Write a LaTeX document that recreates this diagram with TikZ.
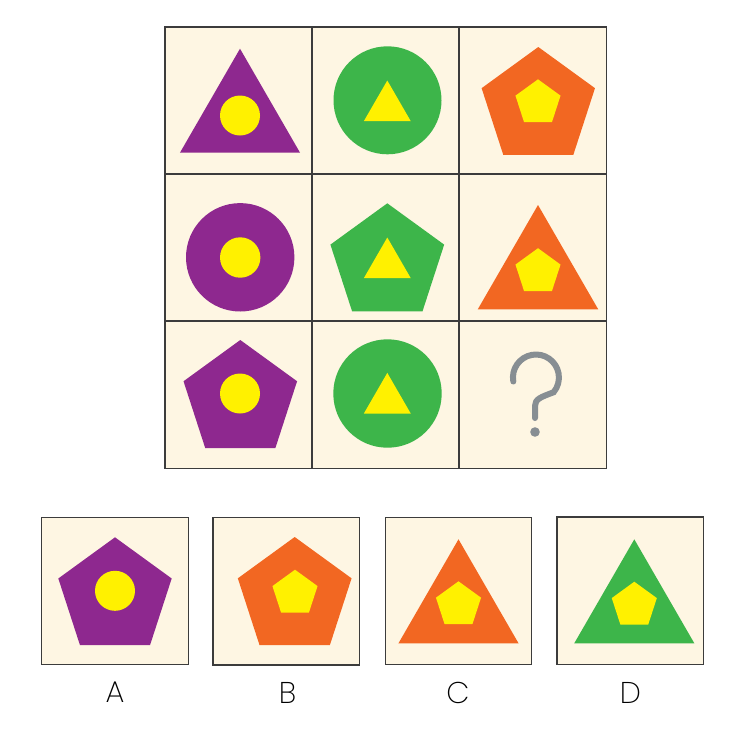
\documentclass[tikz,border=0pt]{standalone}
\usepackage{fontspec}
\newfontfamily\lab{Poppins ExtraLight}
\definecolor{cream}{HTML}{FEF6E3}
\definecolor{gridc}{HTML}{3C3C3C}
\definecolor{purp}{HTML}{8E288F}
\definecolor{grn}{HTML}{3DB54A}
\definecolor{orng}{HTML}{F26722}
\definecolor{yel}{HTML}{FFF100}
\definecolor{qm}{HTML}{878E93}
\newcommand\tri[4]{\fill[#4,shift={(#1,#2)}] (-90:#3) -- (30:#3) -- (150:#3) -- cycle;}
\newcommand\pent[4]{\fill[#4,shift={(#1,#2)}] (-90:#3) -- (-18:#3) -- (54:#3) -- (126:#3) -- (198:#3) -- cycle;}
\newcommand\disc[4]{\fill[#4] (#1,#2) circle[radius=#3];}
\begin{document}
\begin{tikzpicture}[x=1pt,y=-1pt,
  cell/.style={draw=gridc, line width=1.2pt, fill=cream, minimum width=147pt, minimum height=147pt, inner sep=0pt},
  optbox/.style={draw=gridc, line width=1.4pt, fill=cream, minimum width=146.5pt, minimum height=147.5pt, inner sep=0pt},
  letter/.style={font=\lab\fontsize{30}{30}\selectfont, inner sep=0pt}]
\useasboundingbox (0,0) rectangle (740,740);
\fill[white] (0,0) rectangle (740,740);
% grid cells
\node[cell] (c11) at (238.5,100.5) {};
\node[cell] (c12) at (385.5,100.5) {};
\node[cell] (c13) at (532.8,100.5) {};
\node[cell] (c21) at (238.5,247.5) {};
\node[cell] (c22) at (385.5,247.5) {};
\node[cell] (c23) at (532.8,247.5) {};
\node[cell] (c31) at (238.5,394.7) {};
\node[cell] (c32) at (385.5,394.7) {};
\node[cell] (c33) at (532.8,394.7) {};
% row 1
\tri{240}{118}{69.3}{purp}
\disc{240}{115.5}{20}{yel}
\disc{387.5}{100.3}{54}{grn}
\tri{387.3}{107.6}{27.1}{yel}
\pent{538.3}{106.6}{59.6}{orng}
\pent{538}{103}{23.7}{yel}
% row 2
\disc{240.2}{257.3}{54.2}{purp}
\disc{240.2}{257.5}{20.2}{yel}
\pent{387.3}{263.1}{59.8}{grn}
\tri{387.3}{264.6}{27.1}{yel}
\tri{538}{274.6}{69.6}{orng}
\pent{538}{271.9}{23.7}{yel}
% row 3
\pent{240.3}{399.7}{59.7}{purp}
\disc{240}{393.5}{20}{yel}
\disc{387.5}{393.5}{54.2}{grn}
\tri{387.3}{400}{27.1}{yel}
% question mark
\draw[qm, line width=6pt, line cap=round] (513.3,381.5) arc[start angle=170, end angle=400, radius=23]
  .. controls (541,397) and (535,399) .. (535,406) -- (535,418);
\fill[qm] (535,432) circle[radius=4.8];
% options
\node[optbox] (oa) at (115,591) {};
\node[optbox] (ob) at (286.2,591.2) {};
\node[optbox] (oc) at (458.5,591) {};
\node[optbox] (od) at (630.3,590.8) {};
\pent{115}{596.9}{59.6}{purp}
\disc{115}{590.8}{20}{yel}
\pent{294.7}{596.8}{59.8}{orng}
\pent{295}{593.4}{23.7}{yel}
\tri{458.5}{608.7}{69.4}{orng}
\pent{458.5}{605}{23.7}{yel}
\tri{634.3}{608.7}{69.4}{grn}
\pent{634.3}{605.4}{23.7}{yel}
% labels
\node[letter] (la) at (115,692.5) {A};
\node[letter] (lb) at (287.5,692.5) {B};
\node[letter] (lc) at (458,692.5) {C};
\node[letter] (ld) at (630.5,692.5) {D};
\end{tikzpicture}
\end{document}
